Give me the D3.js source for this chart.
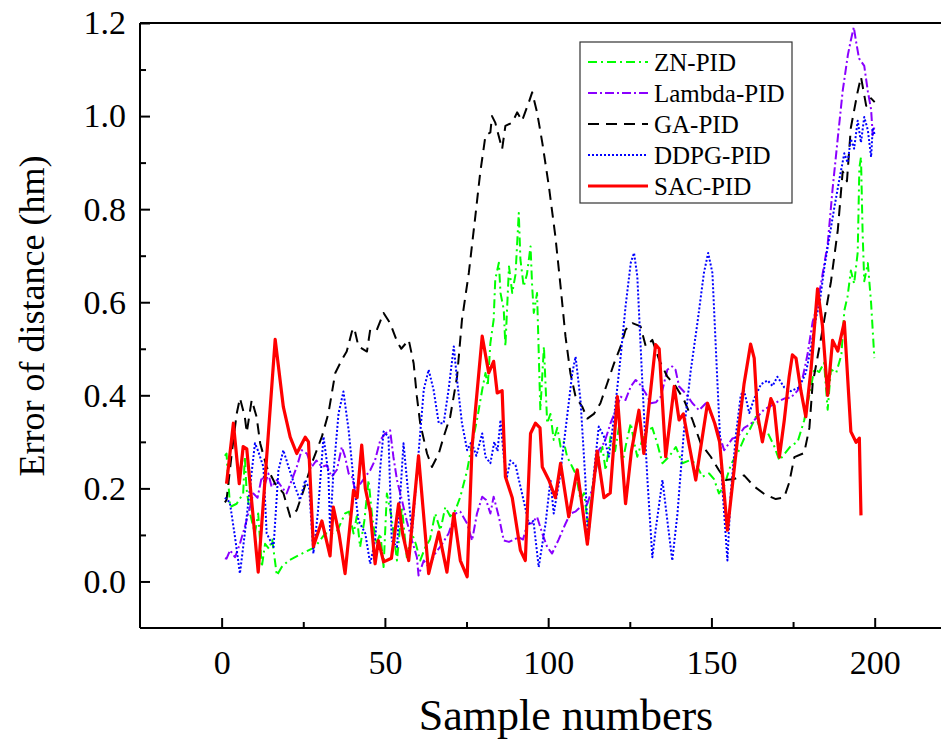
<!DOCTYPE html>
<html><head><meta charset="utf-8">
<script src="https://cdn.jsdelivr.net/npm/d3@7"></script>
<style>body{margin:0;background:#fff}svg{display:block}</style>
</head><body>
<svg id="chart" width="941" height="745"></svg>
<script>
const seriesNames = ["ZN-PID","Lambda-PID","GA-PID","DDPG-PID","SAC-PID"];
const xTicks = [0,50,100,150,200];
const yTicks = [0.0,0.2,0.4,0.6,0.8,1.0,1.2];

const znX = [1,1.5,2,2.6,4.6,6.6,7.1,7.6,8.7,10.2,11.2,12.3,13.3,14.5,15.5,16.9,18.4,20.5,23.5,26.6,28.6,31.7,33.7,35.5,37.8,39,40.4,41.4,42.4,43.7,45,46,47.3,48.6,49.6,50.6,52,53.7,55.2,56.7,58.3,59.5,60.8,62.4,63.8,65.4,67,68.5,70,71.6,73.1,75.2,76.7,78.2,79.8,80.8,81.5,82.3,83.3,83.8,84.9,85.4,86.4,86.9,88,89,90,91,91.5,92.5,93.5,94.6,95.1,95.6,96.6,97.6,98.7,99.7,100.7,101.7,102.8,103.8,104.8,105.8,107.4,108.5,109.9,111,112.2,113.5,115,116.6,117.6,119.1,120.5,121.7,122.7,124,125.3,126.3,127.3,128.8,130.4,131.9,133.4,135,137,139.1,141.1,143.2,145.2,147.2,149.3,150.8,152.3,153.9,156,158,160,162,163.6,165.2,167.2,169.2,170.8,172.5,174.3,176.4,178.4,180,181.5,183,184.5,185.6,186.6,188.2,189.8,190.7,191.7,192.7,193.7,194.8,195.3,195.8,196.3,196.8,197.9,198.9,199.9];
const znY = [0.27,0.275,0.218,0.16,0.167,0.189,0.268,0.2,0.146,0.103,0.146,0.031,0.081,0.07,0.09,0.013,0.031,0.045,0.056,0.067,0.074,0.103,0.103,0.11,0.146,0.15,0.103,0.14,0.074,0.13,0.218,0.146,0.08,0.103,0.031,0.189,0.14,0.045,0.16,0.052,0.103,0.08,0.045,0.074,0.09,0.146,0.11,0.16,0.14,0.153,0.182,0.239,0.297,0.347,0.412,0.448,0.42,0.512,0.562,0.649,0.685,0.62,0.584,0.505,0.677,0.62,0.66,0.792,0.692,0.634,0.66,0.72,0.634,0.577,0.62,0.368,0.505,0.34,0.36,0.304,0.33,0.29,0.3,0.268,0.246,0.23,0.175,0.19,0.12,0.2,0.254,0.289,0.239,0.311,0.28,0.333,0.254,0.3,0.34,0.3,0.268,0.304,0.325,0.33,0.297,0.254,0.268,0.289,0.254,0.26,0.254,0.225,0.232,0.22,0.189,0.205,0.252,0.275,0.307,0.33,0.354,0.322,0.32,0.291,0.26,0.275,0.291,0.3,0.346,0.401,0.456,0.45,0.47,0.369,0.456,0.448,0.487,0.582,0.613,0.668,0.64,0.707,0.888,0.912,0.75,0.645,0.684,0.598,0.48];

const lamX = [1,1.5,2.6,4.1,5.6,7.1,8.7,9.7,11,12.3,13.3,14.3,15.3,16.9,18.4,19.9,21.5,23,24.5,26.1,27.6,29,30.7,32.2,33.7,35.3,36.8,37.8,38.9,39.9,40.9,42.5,44,45.5,47,48.6,50.1,51.6,52.6,53.7,55.2,56.7,58.3,59.8,60.3,61.9,63.4,65.4,67.5,69.5,71.6,73.1,75.2,76.7,78.2,79.8,81,82.3,83.3,84.9,86.4,88,89.5,91,92.3,93.6,95,96.6,98.2,99.7,101.2,103.2,105.3,106.8,108.3,109.9,112,114,115.5,117.3,119.1,120.7,122.2,123.7,125.3,126.8,128.3,129.9,131.4,133,134.5,136.5,138,139,140.1,142.1,144.2,146.2,148.3,150.3,152.3,153.9,156.4,158,160,162,164.1,166.2,168.2,170.2,172.3,174.3,176.4,178,179.4,181,182,183.5,185.6,187.1,188.7,190.2,191.8,192.7,193.6,194.3,195.2,196.8,197.9,198.9,199.4,200];
const lamY = [0.05,0.049,0.067,0.052,0.081,0.117,0.16,0.189,0.18,0.225,0.21,0.232,0.203,0.218,0.203,0.189,0.218,0.246,0.282,0.275,0.246,0.26,0.246,0.25,0.225,0.24,0.289,0.268,0.232,0.225,0.196,0.21,0.225,0.239,0.261,0.304,0.318,0.325,0.268,0.218,0.175,0.13,0.088,0.052,0.013,0.045,0.031,0.06,0.08,0.103,0.146,0.15,0.124,0.088,0.146,0.182,0.175,0.146,0.182,0.139,0.088,0.085,0.09,0.095,0.09,0.124,0.125,0.139,0.103,0.074,0.06,0.09,0.124,0.146,0.15,0.16,0.167,0.21,0.282,0.3,0.34,0.368,0.397,0.39,0.419,0.433,0.422,0.404,0.383,0.385,0.397,0.455,0.462,0.455,0.419,0.404,0.383,0.368,0.383,0.354,0.318,0.282,0.307,0.31,0.33,0.338,0.354,0.37,0.377,0.386,0.393,0.395,0.41,0.44,0.487,0.558,0.582,0.638,0.725,0.843,0.953,1.054,1.132,1.163,1.191,1.16,1.124,1.108,1.053,1.014,0.959,0.98];

const gaX = [1,1.5,3.1,4.6,5.6,7.1,7.7,9.2,10.7,11.8,13.8,16.4,18.9,21,23,25.1,27.6,30.7,32.7,34.8,36.8,38.3,39.9,40.6,41.9,44.5,45.5,47.5,49.6,51.6,53.7,55,57.3,58.8,59.8,60.8,62.9,64.4,66.5,68,70,72.1,73.6,75.7,77.7,79.2,80.8,82.3,82.8,83.8,85.9,86.9,89,90.5,92,94.1,95.1,96.6,98.2,100.2,102.2,103.8,105.3,106.8,108.4,110.4,112,114,116,118.1,120.2,122.2,123.7,125.8,128.3,129.9,131.9,134,136.5,139.1,141.6,144.2,146.7,149.8,152.3,154.4,156.9,160,163.1,166.2,169.7,172.3,173.8,175.4,178.4,180,181,183.5,186.6,188.7,190.2,191.5,192.7,194.8,195.8,197.4,198.9,200];
const gaY = [0.17,0.175,0.275,0.36,0.394,0.354,0.32,0.39,0.354,0.297,0.246,0.21,0.19,0.139,0.153,0.196,0.254,0.311,0.361,0.448,0.476,0.494,0.537,0.545,0.505,0.494,0.541,0.54,0.577,0.555,0.516,0.5,0.519,0.469,0.397,0.34,0.275,0.246,0.275,0.311,0.354,0.44,0.562,0.663,0.785,0.879,0.958,0.965,1.0,0.986,0.929,0.979,0.986,1.008,0.99,1.03,1.051,1.008,0.943,0.85,0.742,0.634,0.527,0.448,0.397,0.376,0.35,0.36,0.383,0.426,0.469,0.505,0.541,0.555,0.548,0.505,0.519,0.476,0.44,0.419,0.39,0.347,0.297,0.268,0.239,0.218,0.22,0.228,0.204,0.188,0.177,0.181,0.212,0.267,0.276,0.33,0.425,0.52,0.644,0.755,0.881,0.86,0.975,1.053,1.084,1.022,1.038,1.03];

const ddpgX = [1,2.5,4,5.6,7.1,8.7,10.2,11.2,12.8,13.8,15.9,17.4,18.9,20.5,22.5,24,25.6,26.8,28.1,29.5,31.2,32.7,33.2,34.2,35.8,37.3,38.9,40.4,41.9,44,45.5,47,48.6,49.6,51.1,52.1,53.7,55.7,57,58.3,60.3,61.9,63.4,64.9,66.5,68,69.5,71.1,72.1,73.6,75.2,76.5,78,79.8,80.8,82.3,83.5,84.5,85.4,86.4,87.4,88.4,90,92,94.1,95.5,97.1,99.2,100.7,101.7,103.5,105.3,107.4,108.4,109.9,111.4,112.2,114,115.5,117.1,118.6,120.2,122.2,123.7,125.3,126.3,127.3,128.8,130.4,131.9,132.9,135,136.5,138,139.6,141.6,143.7,145.7,147.7,149,150.3,151.8,153.4,154.9,155.9,157.5,159,160,161.6,163.1,165.2,167.2,168.7,170.2,172.3,174.3,176.9,178.9,180.5,182,183.1,184.6,186.1,187.6,189.2,190.7,191.7,192.7,193.7,194.8,195.8,196.8,197.9,198.9,199.4,200];
const ddpgY = [0.18,0.17,0.1,0.017,0.103,0.203,0.297,0.28,0.246,0.103,0.074,0.239,0.282,0.246,0.203,0.175,0.218,0.2,0.06,0.15,0.311,0.232,0.11,0.23,0.361,0.408,0.325,0.218,0.131,0.103,0.038,0.088,0.246,0.322,0.311,0.088,0.074,0.297,0.2,0.103,0.275,0.412,0.455,0.412,0.34,0.34,0.412,0.505,0.433,0.34,0.282,0.3,0.27,0.318,0.268,0.254,0.3,0.28,0.347,0.268,0.225,0.26,0.25,0.189,0.124,0.13,0.031,0.124,0.218,0.146,0.22,0.325,0.448,0.483,0.39,0.218,0.085,0.232,0.333,0.311,0.268,0.354,0.483,0.591,0.685,0.706,0.656,0.433,0.218,0.052,0.11,0.218,0.131,0.045,0.146,0.325,0.455,0.555,0.663,0.706,0.663,0.433,0.196,0.045,0.188,0.315,0.401,0.41,0.362,0.393,0.424,0.432,0.42,0.44,0.417,0.409,0.417,0.448,0.503,0.566,0.597,0.676,0.739,0.802,0.865,0.92,0.9,0.951,0.93,0.99,0.943,0.998,0.97,0.912,0.975,0.96];

const sacX = [1.5,3.6,5.4,6.6,7.7,9.5,11.2,13.3,16.4,18.9,21,23,25.6,26.6,28.1,30.7,33.2,34.2,36,37.8,40.4,41.5,42.9,44,45.5,47,48,49.6,52,54.2,55.5,57.3,60.3,63.4,66.5,69,71.1,73.1,75.2,76.7,79.8,81.8,83.3,84.4,85.9,86.9,89,91.5,93,94.6,96.1,97.5,98.2,100.2,102.2,103.8,106.3,108.9,112,115,117.1,119,121.2,123.7,125.5,127.8,129.3,132.9,134,136,138.6,140.1,141.4,145.2,148.8,151,152.5,154.9,156.4,158,160,162,163.1,164.1,165.6,168.2,169.2,170.8,172.3,173.8,174.8,175.9,177.4,178.9,180.5,182.5,184,185.6,187.1,188.7,190.7,192.7,194.3,195.3,195.8];
const sacY = [0.21,0.34,0.21,0.29,0.285,0.15,0.02,0.22,0.52,0.375,0.31,0.275,0.31,0.3,0.075,0.13,0.055,0.16,0.1,0.017,0.196,0.18,0.293,0.2,0.15,0.038,0.088,0.042,0.05,0.167,0.1,0.045,0.27,0.017,0.106,0.02,0.146,0.045,0.01,0.29,0.527,0.448,0.473,0.405,0.41,0.225,0.18,0.067,0.045,0.318,0.34,0.33,0.246,0.218,0.18,0.254,0.139,0.24,0.08,0.28,0.18,0.19,0.397,0.167,0.28,0.368,0.275,0.509,0.5,0.268,0.419,0.347,0.36,0.218,0.383,0.34,0.3,0.11,0.205,0.307,0.425,0.51,0.48,0.36,0.3,0.393,0.377,0.267,0.346,0.44,0.487,0.48,0.41,0.354,0.456,0.629,0.55,0.4,0.518,0.495,0.558,0.322,0.299,0.308,0.142];

const series = [
  {name: seriesNames[0], xs: znX, ys: znY, color: "#00ff00", width: 2, dash: "9,4,2,4"},
  {name: seriesNames[1], xs: lamX, ys: lamY, color: "#8a00ff", width: 2, dash: "9,3,2,3"},
  {name: seriesNames[2], xs: gaX, ys: gaY, color: "#000000", width: 2, dash: "11,7"},
  {name: seriesNames[3], xs: ddpgX, ys: ddpgY, color: "#0000ff", width: 2, dash: "2,2"},
  {name: seriesNames[4], xs: sacX, ys: sacY, color: "#ff0000", width: 3.2, dash: null}
];

const svg = d3.select("#chart");
const x = d3.scaleLinear().domain([-25, 220]).range([140, 940]);
const y = d3.scaleLinear().domain([-0.1, 1.2]).range([628, 23]);
const font = "'Liberation Serif','Times New Roman',serif";

const plot = svg.append("g");
const line = d3.line().x(d => x(d[0])).y(d => y(d[1]));
series.forEach(s => {
  const pts = s.xs.map((v, i) => [v, s.ys[i]]);
  plot.append("path").datum(pts).attr("d", line)
    .attr("fill", "none").attr("stroke", s.color).attr("stroke-width", s.width)
    .attr("stroke-dasharray", s.dash).attr("stroke-linejoin", "round");
});

// frame
const fr = svg.append("g").attr("stroke", "#000").attr("stroke-width", 2);
fr.append("line").attr("x1", 140).attr("x2", 941).attr("y1", 628).attr("y2", 628);
fr.append("line").attr("x1", 140).attr("x2", 140).attr("y1", 23).attr("y2", 628);
fr.append("line").attr("x1", 140).attr("x2", 941).attr("y1", 23).attr("y2", 23);

// axes (inward ticks)
const xAxis = d3.axisBottom(x).tickValues(xTicks).tickSizeInner(-10).tickSizeOuter(0).tickPadding(22).tickFormat(d3.format("d"));
const gx = svg.append("g").attr("transform", "translate(0,628)").call(xAxis);
gx.select(".domain").remove();
gx.selectAll("line").attr("stroke-width", 2);
gx.selectAll("text").attr("font-family", font).attr("font-size", 34).attr("fill", "#000");
const xMinor = svg.append("g").attr("transform", "translate(0,628)")
  .call(d3.axisBottom(x).tickValues([25,75,125,175]).tickSizeInner(-6).tickSizeOuter(0).tickFormat(""));
xMinor.select(".domain").remove();
xMinor.selectAll("line").attr("stroke-width", 2);

const yAxis = d3.axisLeft(y).tickValues(yTicks).tickSizeInner(-10).tickSizeOuter(0).tickPadding(14).tickFormat(d3.format(".1f"));
const gy = svg.append("g").attr("transform", "translate(140,0)").call(yAxis);
gy.select(".domain").remove();
gy.selectAll("line").attr("stroke-width", 2);
gy.selectAll("text").attr("font-family", font).attr("font-size", 34).attr("fill", "#000");
const yMinor = svg.append("g").attr("transform", "translate(140,0)")
  .call(d3.axisLeft(y).tickValues([0.1,0.3,0.5,0.7,0.9,1.1]).tickSizeInner(-6).tickSizeOuter(0).tickFormat(""));
yMinor.select(".domain").remove();
yMinor.selectAll("line").attr("stroke-width", 2);

// titles
svg.append("text").attr("x", 566).attr("y", 730).attr("text-anchor", "middle")
  .attr("font-family", font).attr("font-size", 44).text("Sample numbers");
svg.append("text").attr("transform", "translate(44,316) rotate(-90)").attr("text-anchor", "middle")
  .attr("font-family", font).attr("font-size", 36).text("Error of distance (hm)");

// legend
const lg = svg.append("g");
lg.append("rect").attr("x", 580).attr("y", 42).attr("width", 212).attr("height", 161)
  .attr("fill", "#fff").attr("stroke", "#333").attr("stroke-width", 1.2);
series.forEach((s, i) => {
  const yy = 62 + i * 31;
  lg.append("line").attr("x1", 588).attr("x2", 648).attr("y1", yy).attr("y2", yy)
    .attr("stroke", s.color).attr("stroke-width", s.width).attr("stroke-dasharray", s.dash);
  lg.append("text").attr("x", 654).attr("y", yy).attr("dy", "0.35em")
    .attr("font-family", font).attr("font-size", 25).text(s.name);
});
</script>
</body></html>
